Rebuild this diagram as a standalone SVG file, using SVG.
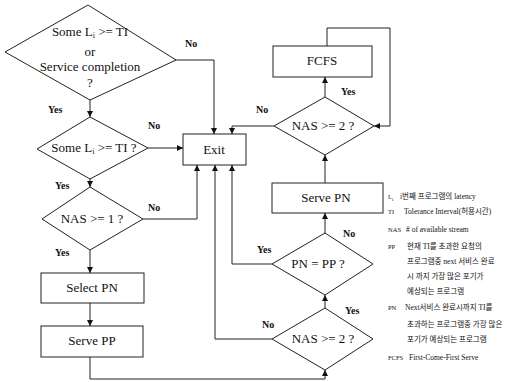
<svg xmlns="http://www.w3.org/2000/svg" width="526" height="382" viewBox="0 0 526 382">
<defs>
<marker id="ah" viewBox="0 0 8 8" refX="8" refY="4" markerWidth="6" markerHeight="6" orient="auto" markerUnits="userSpaceOnUse">
<path d="M0,0 L8,4 L0,8 z" fill="#111"/>
</marker>
<style>
.shape{fill:#fff;stroke:#222;stroke-width:1}
.t{font-family:"Liberation Serif","Times New Roman",serif;font-size:13px;fill:#111;text-anchor:middle}
.lbl{font-family:"Liberation Serif","Times New Roman",serif;font-size:10px;font-weight:bold;fill:#111}
.conn path{fill:none;stroke:#222;stroke-width:1;marker-end:url(#ah)}
.lg{font-family:"Liberation Serif","Noto Sans CJK KR",serif;font-size:7.5px;fill:#111}
.lk{font-family:"Liberation Serif","Times New Roman",serif;font-size:6.5px;fill:#111}
</style>
</defs>
<rect width="526" height="382" fill="#fff"/>

<g id="d1">
<polygon class="shape" points="88,5 176,60 90,100 5,52"/>
<text class="t" x="90" y="36">Some L<tspan font-size="8" dy="2">i</tspan><tspan dy="-2"> &gt;= TI</tspan></text>
<text class="t" x="90" y="56">or</text>
<text class="t" x="90" y="71">Service completion</text>
<text class="t" x="90" y="87">?</text>
</g>
<g id="d2">
<polygon class="shape" points="90,117 148,148 90,179 37,149"/>
<text class="t" x="94" y="152">Some L<tspan font-size="8" dy="2">i</tspan><tspan dy="-2"> &gt;= TI ?</tspan></text>
</g>
<g id="d3">
<polygon class="shape" points="90,187 143,219 90,250 42,219"/>
<text class="t" x="92" y="223">NAS &gt;= 1 ?</text>
</g>
<g id="selectpn">
<rect class="shape" x="41" y="273" width="103" height="30"/>
<text class="t" x="92" y="292">Select PN</text>
</g>
<g id="servepp">
<rect class="shape" x="41" y="326" width="102" height="31"/>
<text class="t" x="92" y="345">Serve PP</text>
</g>
<g id="exit">
<rect class="shape" x="183" y="134" width="63" height="31"/>
<text class="t" x="214" y="154">Exit</text>
</g>
<g id="fcfs">
<rect class="shape" x="273" y="46" width="99" height="31"/>
<text class="t" x="322" y="65">FCFS</text>
</g>
<g id="d4">
<polygon class="shape" points="325,97 374,126 325,155 274,126"/>
<text class="t" x="323" y="130">NAS &gt;= 2 ?</text>
</g>
<g id="servepn">
<rect class="shape" x="272" y="183" width="111" height="30"/>
<text class="t" x="326" y="202">Serve PN</text>
</g>
<g id="d5">
<polygon class="shape" points="325,233 373,264 325,295 272,264"/>
<text class="t" x="318" y="268">PN = PP ?</text>
</g>
<g id="d6">
<polygon class="shape" points="325,308 373,339 325,370 272,339"/>
<text class="t" x="323" y="343">NAS &gt;= 2 ?</text>
</g>

<g id="connectors" class="conn">
<path d="M90,100 L90,117"/>
<path d="M176,60 L214,60 L214,134"/>
<path d="M148,148 L183,148"/>
<path d="M90,179 L90,187"/>
<path d="M143,219 L197,219 L197,165"/>
<path d="M90,250 L90,273"/>
<path d="M90,303 L90,326"/>
<path d="M90,357 L90,379 L325,379 L325,370"/>
<path d="M325,308 L325,295"/>
<path d="M272,339 L215,339 L215,165"/>
<path d="M272,264 L232,264 L232,165"/>
<path d="M325,233 L325,213"/>
<path d="M325,183 L325,155"/>
<path d="M325,97 L325,77"/>
<path d="M274,126 L232,126 L232,134"/>
<path d="M327,46 L327,28 L390,28 L390,126 L374,126"/>
</g>

<g id="labels">
<text class="lbl" x="185" y="47">No</text>
<text class="lbl" x="48" y="113">Yes</text>
<text class="lbl" x="148" y="129">No</text>
<text class="lbl" x="55" y="189">Yes</text>
<text class="lbl" x="148" y="211">No</text>
<text class="lbl" x="55" y="256">Yes</text>
<text class="lbl" x="256" y="113">No</text>
<text class="lbl" x="341" y="95">Yes</text>
<text class="lbl" x="343" y="237">No</text>
<text class="lbl" x="257" y="253">Yes</text>
<text class="lbl" x="345" y="314">Yes</text>
<text class="lbl" x="262" y="328">No</text>
</g>

<g id="legend">
<text class="lk" x="388" y="199">L<tspan font-size="5" dy="1.5">i</tspan></text>
<text class="lg" x="400" y="199">i번째 프로그램의 latency</text>
<text class="lk" x="388" y="214">TI</text>
<text class="lg" x="404" y="214">Tolerance Interval(허용시간)</text>
<text class="lk" x="388" y="232">NAS</text>
<text class="lg" x="406" y="232"># of available stream</text>
<text class="lk" x="388" y="249">PP</text>
<text class="lg" x="407" y="249">현재 TI를 초과한 요청의</text>
<text class="lg" x="407" y="264">프로그램중 next 서비스 완료</text>
<text class="lg" x="407" y="279">시 까지 가장 많은 포기가</text>
<text class="lg" x="407" y="294">예상되는 프로그램</text>
<text class="lk" x="388" y="310">PN</text>
<text class="lg" x="405" y="310">Next서비스 완료시까지 TI를</text>
<text class="lg" x="407" y="327">초과하는 프로그램중 가장 많은</text>
<text class="lg" x="407" y="342">포기가 예상되는 프로그램</text>
<text class="lk" x="388" y="360">FCFS</text>
<text class="lg" x="409" y="360">First-Come-First Serve</text>
</g>
</svg>
